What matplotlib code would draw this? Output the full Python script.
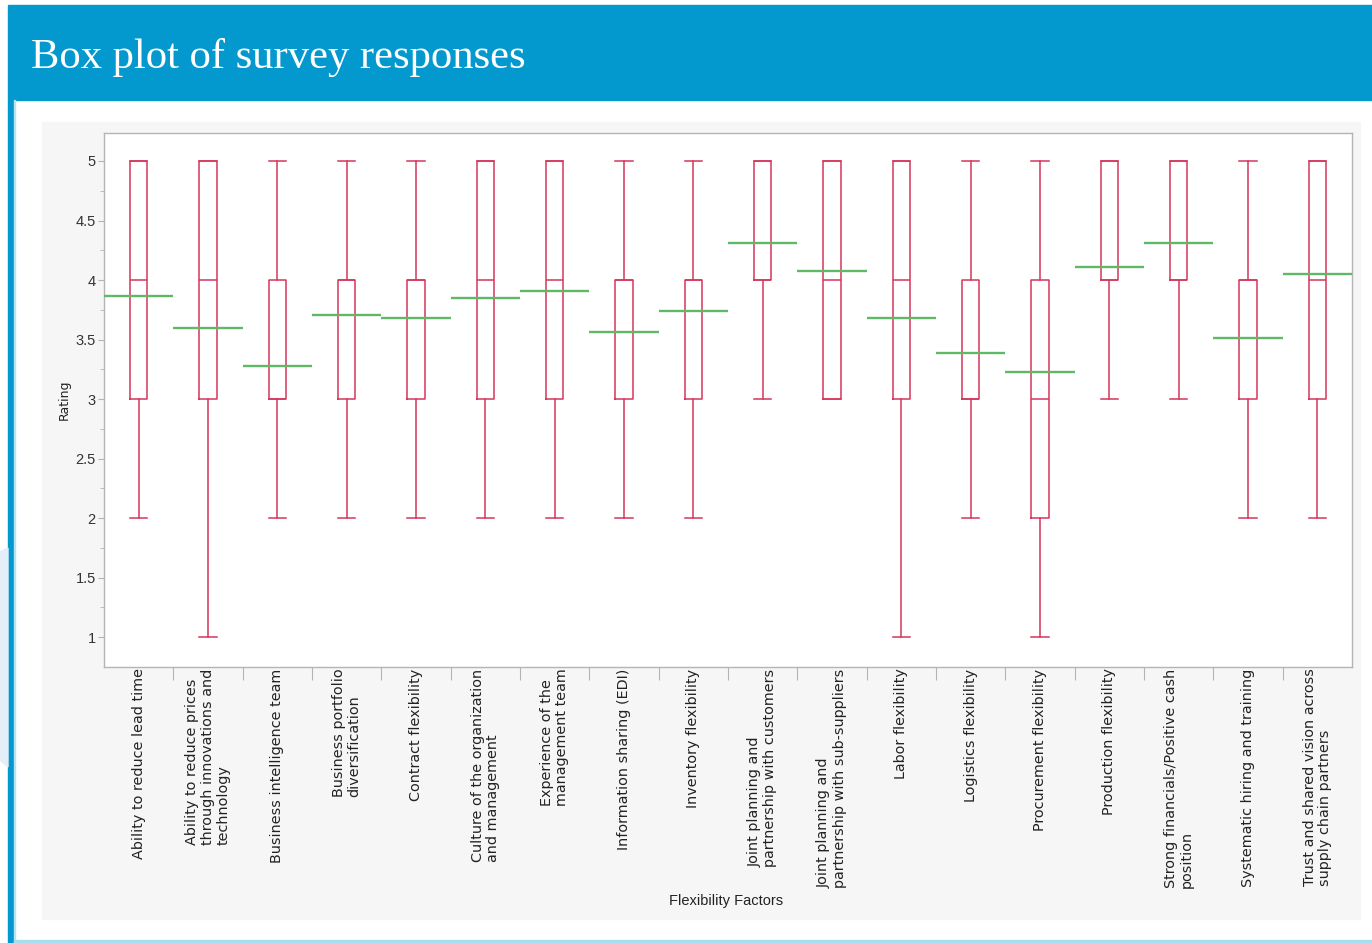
import numpy as np
import matplotlib
matplotlib.use('Agg')
import matplotlib.pyplot as plt
from matplotlib.patches import Rectangle, Polygon

# survey data (ratings 1..5)
factors = [
    'Ability to reduce lead time',
    'Ability to reduce prices\nthrough innovations and\ntechnology',
    'Business intelligence team',
    'Business portfolio\ndiversification',
    'Contract flexibility',
    'Culture of the organization\nand management',
    'Experience of the\nmanagement team',
    'Information sharing (EDI)',
    'Inventory flexibility',
    'Joint planning and\npartnership with customers',
    'Joint planning and\npartnership with sub-suppliers',
    'Labor flexibility',
    'Logistics flexibility',
    'Procurement flexibility',
    'Production flexibility',
    'Strong financials/Positive cash\nposition',
    'Systematic hiring and training',
    'Trust and shared vision across\nsupply chain partners',
]
mins    = [2, 1, 2, 2, 2, 2, 2, 2, 2, 3, 3, 1, 2, 1, 3, 3, 2, 2]
q1s     = [3, 3, 3, 3, 3, 3, 3, 3, 3, 4, 3, 3, 3, 2, 4, 4, 3, 3]
medians = [4, 4, 3, 4, 4, 4, 4, 4, 4, 4, 4, 4, 3, 3, 4, 4, 4, 4]
q3s     = [5, 5, 4, 4, 4, 5, 5, 4, 4, 5, 5, 5, 4, 4, 5, 5, 4, 5]
maxs    = [5, 5, 5, 5, 5, 5, 5, 5, 5, 5, 5, 5, 5, 5, 5, 5, 5, 5]
means   = [3.87, 3.60, 3.28, 3.71, 3.68, 3.85, 3.91, 3.56, 3.74,
           4.31, 4.08, 3.68, 3.39, 3.23, 4.11, 4.31, 3.51, 4.05]

W, H = 1372, 943
RED = '#d4375c'
GREEN = '#5fb866'
BLUE = '#0399cf'
NARROW = ['Liberation Sans', 'DejaVu Sans']


def fx(x): return x / W
def fy(y): return 1 - y / H


fig = plt.figure(figsize=(W / 100, H / 100), dpi=100)
fig.patch.set_facecolor('white')

# slide decoration: header band, left stripe, bottom line, gray panel
def deco(x, y, w, h, c):
    fig.patches.append(Rectangle((fx(x), fy(y + h)), w / W, h / H,
                                 transform=fig.transFigure, color=c, zorder=-10))

deco(8, 5, W - 8, 95, BLUE)
deco(8, 100, 6, H - 100, BLUE)
deco(14, 100, 1, H - 100, '#b8e2f2')
deco(14, 940, W, 2, '#a6def0')
deco(42, 122, 1318, 797, '#f6f6f6')
fig.patches.append(Polygon([(0, fy(552)), (fx(8), fy(548)), (fx(8), fy(767)),
                            (0, fy(760))], closed=True, transform=fig.transFigure,
                           color='#e4eef8', zorder=-10))

fig.text(fx(31), fy(68), 'Box plot of survey responses', color='white',
         family='Liberation Serif', fontsize=30.7, va='baseline', ha='left')

ax = fig.add_axes([fx(104), fy(667), fx(1248), 534 / H], zorder=2)
ax.set_facecolor('white')

pos = np.arange(len(factors))
stats = []
for i in range(len(factors)):
    stats.append({'med': medians[i], 'q1': q1s[i], 'q3': q3s[i],
                  'whislo': mins[i], 'whishi': maxs[i], 'fliers': []})

lp = dict(color=RED, linewidth=1.1)
ax.bxp(stats, positions=pos, widths=0.25, capwidths=0.25, showfliers=False,
       boxprops=lp, whiskerprops=lp, capprops=lp, medianprops=lp,
       manage_ticks=False)
ax.hlines(means, pos - 0.5, pos + 0.5, color=GREEN, linewidth=1.7, zorder=4)

ax.set_xlim(-0.5, len(factors) - 0.5)
ax.set_ylim(0.75, 5.235)

for s in ax.spines.values():
    s.set_color('#b4b4b4')
    s.set_linewidth(1.0)

ax.set_yticks(np.arange(1, 5.01, 0.5))
ax.set_yticklabels(['1', '1.5', '2', '2.5', '3', '3.5', '4', '4.5', '5'],
                   family=NARROW, fontsize=10.5, color='#333333')
ax.set_yticks(np.arange(1.25, 5.0, 0.5), minor=True)
ax.tick_params(axis='y', which='major', length=4, color='#b4b4b4', pad=2)
ax.tick_params(axis='y', which='minor', length=3, color='#b4b4b4')

# category boundaries get the tick marks, centres carry the labels
ax.set_xticks(pos[:-1] + 0.5)
ax.set_xticklabels([])
ax.set_xticks(pos, minor=True)
ax.set_xticklabels(factors, minor=True, rotation=90, fontsize=10.4,
                   family='DejaVu Sans', color='#222222', linespacing=1.15,
                   multialignment='left', va='top', ha='center')
ax.tick_params(axis='x', which='major', length=9, color='#b4b4b4')
ax.tick_params(axis='x', which='minor', length=0, pad=1)

ax.set_ylabel('Rating', family='DejaVu Sans', fontsize=9, color='#222222')
ax.yaxis.set_label_coords(-0.027, 0.5)
fig.text(fx(726), fy(901), 'Flexibility Factors', ha='center', va='center',
         family=NARROW, fontsize=10.5, color='#222222')

fig.savefig('out.png', dpi=100)
